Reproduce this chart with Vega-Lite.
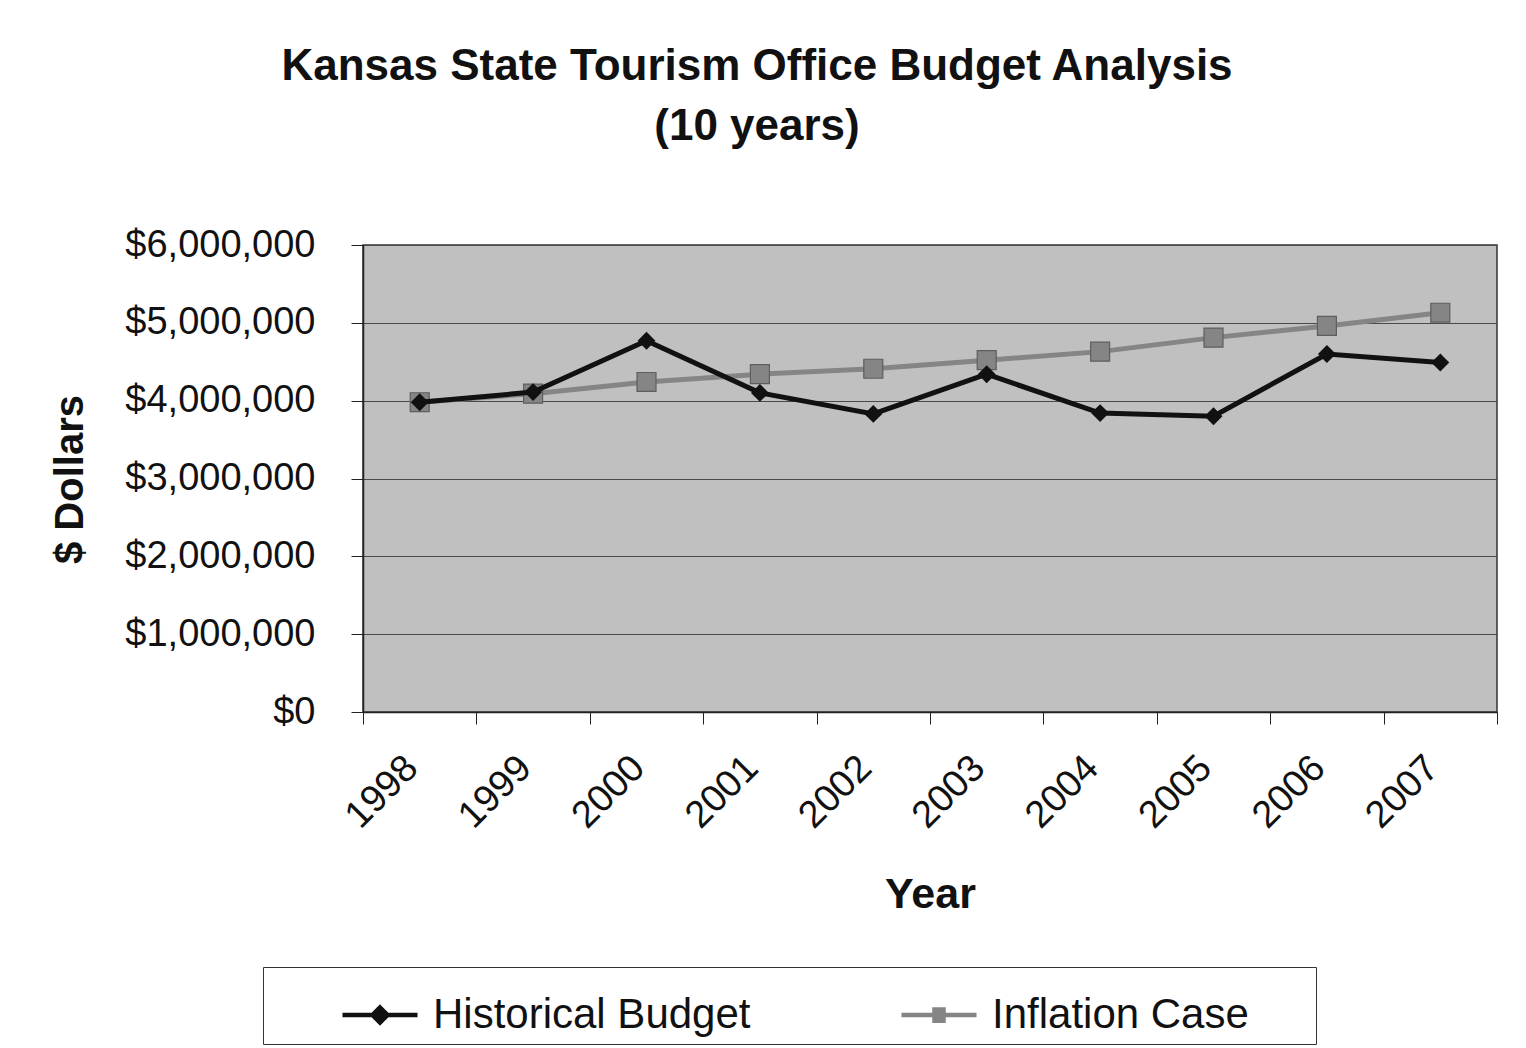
{
  "$schema": "https://vega.github.io/schema/vega-lite/v6.json",
  "autosize": {"type": "none"},
  "width": 1134,
  "height": 467,
  "padding": {"left": 363, "top": 245, "right": 29, "bottom": 336},
  "background": "white",
  "title": {
    "text": ["Kansas State Tourism Office Budget Analysis", "(10 years)"],
    "font": "Liberation Sans",
    "fontSize": 44,
    "fontWeight": "bold",
    "color": "#111111",
    "anchor": "middle",
    "dx": -173,
    "offset": 77,
    "lineHeight": 60
  },
  "config": {
    "font": "Liberation Sans",
    "view": {"fill": "#c0c0c0", "stroke": "#333333", "strokeWidth": 1.5}
  },
  "data": {
    "values": [
      {"year": "1998", "series": "Historical Budget", "value": 3980000},
      {"year": "1999", "series": "Historical Budget", "value": 4110000},
      {"year": "2000", "series": "Historical Budget", "value": 4770000},
      {"year": "2001", "series": "Historical Budget", "value": 4100000},
      {"year": "2002", "series": "Historical Budget", "value": 3830000},
      {"year": "2003", "series": "Historical Budget", "value": 4340000},
      {"year": "2004", "series": "Historical Budget", "value": 3840000},
      {"year": "2005", "series": "Historical Budget", "value": 3800000},
      {"year": "2006", "series": "Historical Budget", "value": 4600000},
      {"year": "2007", "series": "Historical Budget", "value": 4490000},
      {"year": "1998", "series": "Inflation Case", "value": 3980000},
      {"year": "1999", "series": "Inflation Case", "value": 4090000},
      {"year": "2000", "series": "Inflation Case", "value": 4240000},
      {"year": "2001", "series": "Inflation Case", "value": 4340000},
      {"year": "2002", "series": "Inflation Case", "value": 4410000},
      {"year": "2003", "series": "Inflation Case", "value": 4520000},
      {"year": "2004", "series": "Inflation Case", "value": 4630000},
      {"year": "2005", "series": "Inflation Case", "value": 4810000},
      {"year": "2006", "series": "Inflation Case", "value": 4960000},
      {"year": "2007", "series": "Inflation Case", "value": 5130000}
    ]
  },
  "encoding": {
    "x": {
      "field": "year",
      "type": "ordinal",
      "scale": {"type": "band", "paddingInner": 0, "paddingOuter": 0},
      "axis": {
        "title": "Year",
        "titleFontSize": 43,
        "titleFontWeight": "bold",
        "titleColor": "#111111",
        "titlePadding": 38,
        "labelAngle": -45,
        "labelAlign": "right",
        "labelBaseline": "middle",
        "labelFontSize": 38,
        "labelColor": "#111111",
        "labelPadding": 38,
        "labelOffset": -8,
        "tickBand": "extent",
        "tickSize": 12,
        "tickColor": "#222222",
        "domainColor": "#222222",
        "domainWidth": 1.5,
        "grid": false
      }
    },
    "y": {
      "field": "value",
      "type": "quantitative",
      "scale": {"domain": [0, 6000000]},
      "axis": {
        "title": "$ Dollars",
        "titleFontSize": 40,
        "titleFontWeight": "bold",
        "titleColor": "#111111",
        "titleAngle": -90,
        "titleAlign": "center",
        "titleBaseline": "middle",
        "titleX": -293,
        "titleY": 234,
        "values": [0, 1000000, 2000000, 3000000, 4000000, 5000000, 6000000],
        "format": "$,.0f",
        "labelFontSize": 38,
        "labelLimit": 400,
        "labelColor": "#111111",
        "labelPadding": 36,
        "tickSize": 12,
        "tickColor": "#222222",
        "domainColor": "#222222",
        "domainWidth": 1.5,
        "grid": true,
        "gridColor": "#4a4a4a",
        "gridWidth": 1.2
      }
    },
    "color": {
      "field": "series",
      "type": "nominal",
      "scale": {"domain": ["Historical Budget", "Inflation Case"], "range": ["#111111", "#858585"]},
      "legend": {
        "title": null,
        "orient": "none",
        "legendX": -100,
        "legendY": 722,
        "direction": "horizontal",
        "columns": 2,
        "padding": 8,
        "symbolOffset": 69,
        "columnPadding": 79,
        "symbolSize": 5625,
        "symbolStrokeWidth": 4.5,
        "labelFontSize": 42,
        "labelColor": "#111111",
        "labelOffset": 13,
        "labelLimit": 700,
        "labelExpr": "datum.value === 'Inflation Case' ? datum.label + '\u00a0\u00a0\u00a0\u00a0\u00a0\u200b' : datum.label",
        "strokeColor": "#333333",
        "fillColor": "white",
        "encode": {
          "symbols": {
            "update": {
              "shape": {"signal": "datum.value === 'Historical Budget' ? 'M-1,0H1M0,-0.2L0.2,0L0,0.2L-0.2,0Z' : 'M-1,0H1M-0.12,-0.15H0.12V0.15H-0.12Z'"}
            }
          }
        }
      }
    }
  },
  "layer": [
    {
      "transform": [{"filter": "datum.series === 'Inflation Case'"}],
      "mark": {"type": "line", "strokeWidth": 5}
    },
    {
      "transform": [{"filter": "datum.series === 'Inflation Case'"}],
      "mark": {"type": "point", "shape": "square", "size": 360, "filled": true, "opacity": 1, "stroke": "#5e5e5e", "strokeWidth": 1.2}
    },
    {
      "transform": [{"filter": "datum.series === 'Historical Budget'"}],
      "mark": {"type": "line", "strokeWidth": 5}
    },
    {
      "transform": [{"filter": "datum.series === 'Historical Budget'"}],
      "mark": {"type": "point", "shape": "diamond", "size": 320, "filled": true, "opacity": 1}
    }
  ]
}
